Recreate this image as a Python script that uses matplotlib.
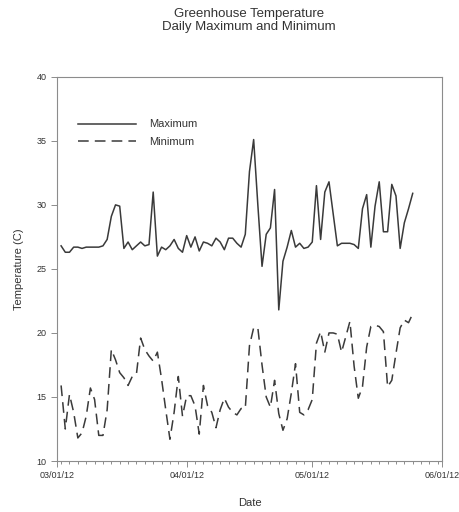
import numpy as np
import pandas as pd
import matplotlib
matplotlib.use("Agg")
import matplotlib.pyplot as plt
import matplotlib.dates as mdates

plt.rcParams['font.family'] = ['Liberation Sans', 'DejaVu Sans']

# daily readings, one per day starting 03/02/12
start_date = "2012-03-02"
max_temp = [
    26.8, 26.3, 26.3, 26.7, 26.7, 26.6, 26.7, 26.7, 26.7, 26.7,
    26.8, 27.3, 29.1, 30.0, 29.9, 26.6, 27.1, 26.5, 26.8, 27.1,
    26.8, 26.9, 31.0, 26.0, 26.7, 26.5, 26.8, 27.3, 26.6, 26.3,
    27.6, 26.7, 27.5, 26.4, 27.1, 27.0, 26.8, 27.4, 27.1, 26.5,
    27.4, 27.4, 27.0, 26.7, 27.7, 32.6, 35.1, 30.0, 25.2, 27.7,
    28.2, 31.2, 21.8, 25.6, 26.7, 28.0, 26.7, 27.0, 26.6, 26.7,
    27.1, 31.5, 27.3, 31.0, 31.8, 29.3, 26.8, 27.0, 27.0, 27.0,
    26.9, 26.6, 29.7, 30.8, 26.7, 29.9, 31.8, 27.9, 27.9, 31.6,
    30.7, 26.6, 28.6, 29.7, 30.9,
]
min_temp = [
    15.9, 12.5, 15.2, 13.8, 11.8, 12.2, 13.5, 15.7, 14.8, 12.0,
    12.0, 14.0, 18.7, 17.9, 16.9, 16.5, 15.9, 16.6, 16.8, 19.6,
    18.7, 18.2, 17.8, 18.5, 16.4, 14.0, 11.7, 13.8, 16.6, 13.5,
    15.1, 15.1, 14.3, 12.1, 15.9, 14.3, 13.8, 12.6, 14.0, 14.9,
    14.2, 13.8, 13.6, 14.1, 14.1, 19.0, 20.4, 20.4, 17.5, 15.0,
    14.2, 16.3, 13.7, 12.4, 13.3, 15.3, 17.6, 13.8, 13.6, 14.0,
    14.8, 19.2, 20.1, 18.5, 20.0, 20.0, 19.9, 18.5, 19.7, 20.9,
    17.4, 14.9, 15.8, 18.9, 20.5, 20.6, 20.5, 20.1, 15.8, 16.3,
    18.4, 20.4, 21.0, 20.8, 21.5,
]
dates = pd.date_range(start_date, periods=len(max_temp), freq="D")

x_start, x_end = pd.Timestamp("2012-03-01"), pd.Timestamp("2012-06-01")
y_ticks = [10, 15, 20, 25, 30, 35, 40]

line_col = "#3a3a3a"
axis_col = "#8c8c8c"
text_col = "#333333"

fig = plt.figure(figsize=(4.59, 5.12), dpi=100)
ax = fig.add_axes([0.124, 0.0996, 0.839, 0.7504])

ax.plot(dates, max_temp, color=line_col, lw=1.1, label="Maximum")
ax.plot(dates, min_temp, color=line_col, lw=1.1, dashes=(7, 4), label="Minimum")

ax.set_xlim(x_start, x_end)
ax.set_ylim(10, 40)
ax.set_yticks(y_ticks)
ax.xaxis.set_major_locator(mdates.MonthLocator())
ax.xaxis.set_major_formatter(mdates.DateFormatter("%m/%d/%y"))
ax.xaxis.set_minor_locator(mdates.DayLocator(interval=2))

for s in ax.spines.values():
    s.set_color(axis_col)
    s.set_linewidth(0.8)
ax.tick_params(which="both", direction="out", colors=axis_col, labelcolor=text_col,
               labelsize=6.5, width=0.7)
ax.tick_params(which="major", length=4)
ax.tick_params(which="minor", length=2.5)

ax.set_xlabel("Date", fontsize=8, color=text_col, labelpad=13)
ax.set_ylabel("Temperature (C)", fontsize=8, color=text_col, labelpad=9)

leg = ax.legend(loc="upper left", bbox_to_anchor=(0.03, 0.915), frameon=False,
                fontsize=8, handlelength=5.2, handletextpad=1.2, labelspacing=0.65,
                labelcolor=text_col)

fig.text(0.543, 0.985, "Greenhouse Temperature\nDaily Maximum and Minimum",
         ha="center", va="top", fontsize=9.5, color=text_col, linespacing=1.15)

fig.savefig("out.png", dpi=100, facecolor="white")
